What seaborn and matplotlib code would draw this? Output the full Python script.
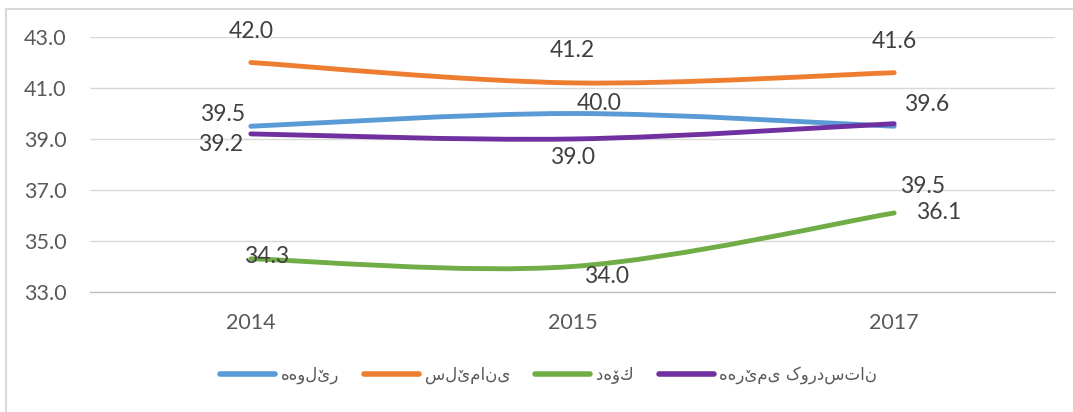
import numpy as np
import pandas as pd
import matplotlib
matplotlib.use("Agg")
import matplotlib.pyplot as plt
from matplotlib.path import Path
from matplotlib.patches import PathPatch, Rectangle
import seaborn as sns

years = ["2014", "2015", "2017"]
regions = ["هەولێر", "سلێمانی", "دهۆك", "هەرێمی کوردستان"]
erbil = [39.5, 40.0, 39.5]
sulaymani = [42.0, 41.2, 41.6]
duhok = [34.3, 34.0, 36.1]
kurdistan = [39.2, 39.0, 39.6]
series = [erbil, sulaymani, duhok, kurdistan]
colors = ["#5B9BD5", "#ED7D31", "#70AD47", "#7030A0"]
yticks = [33.0, 35.0, 37.0, 39.0, 41.0, 43.0]

# label offsets in pixels (dx, dy) per series per point
offsets = [
    [(-28, 12), (27, 10), (28, -60)],
    [(0, 31), (0, 32), (0, 31)],
    [(16, 2), (34, -10), (44, 0)],
    [(-30, -11), (0, -18), (32, 19)],
]

rows = []
for r, vals in zip(regions, series):
    for i, v in enumerate(vals):
        rows.append({"pos": i, "year": years[i], "value": v, "region": r})
df = pd.DataFrame(rows)

sns.set_theme(style="white")
plt.rcParams["font.family"] = ["Lato", "DejaVu Sans"]

fig = plt.figure(figsize=(10.73, 4.12), dpi=100)
ax = fig.add_axes([90 / 1073, 1 - 292 / 412, 965 / 1073, 255 / 412])

sns.lineplot(data=df, x="pos", y="value", hue="region", hue_order=regions,
             palette=colors, linewidth=3.5, ax=ax, legend=True)

# Replace straight segments with Excel-like smoothed curves
for line in list(ax.lines):
    xd = np.asarray(line.get_xdata(), float)
    yd = np.asarray(line.get_ydata(), float)
    if len(xd) < 2:
        continue
    pts = np.column_stack([xd, yd])
    n = len(pts)
    verts = [pts[0]]
    codes = [Path.MOVETO]
    for i in range(n - 1):
        p0 = pts[i - 1] if i > 0 else pts[i]
        p1 = pts[i]
        p2 = pts[i + 1]
        p3 = pts[i + 2] if i + 2 < n else pts[i + 1]
        c1 = p1 + (p2 - p0) / 6
        c2 = p2 - (p3 - p1) / 6
        verts += [c1, c2, p2]
        codes += [Path.CURVE4] * 3
    patch = PathPatch(Path(verts, codes), fill=False, edgecolor=line.get_color(),
                      linewidth=3.5, capstyle="round", joinstyle="round", zorder=3)
    ax.add_patch(patch)
    line.set_visible(False)

for s, vals in enumerate(series):
    for i, v in enumerate(vals):
        ax.annotate(f"{v:.1f}", (i, v), xytext=offsets[s][i], textcoords="offset pixels",
                    ha="center", va="center", fontsize=16.5, color="#404040", zorder=5)

ax.set_xlim(-0.5, 2.5)
ax.set_ylim(33, 43)
ax.set_yticks(yticks)
ax.set_yticklabels([f"{t:.1f}" for t in yticks])
ax.set_xticks(range(len(years)))
ax.set_xticklabels(years)
ax.set_xlabel("")
ax.set_ylabel("")
ax.tick_params(axis="y", length=0, pad=17, labelsize=15.5, labelcolor="#595959")
ax.tick_params(axis="x", length=0, pad=15, labelsize=15.5, labelcolor="#595959")
ax.grid(axis="y", color="#D9D9D9", linewidth=1)
ax.set_axisbelow(True)
for side in ["left", "right", "top"]:
    ax.spines[side].set_visible(False)
ax.spines["bottom"].set_color("#BFBFBF")
ax.spines["bottom"].set_linewidth(1)

leg = ax.legend(loc="center", bbox_to_anchor=(548.5 / 1073, 1 - 375 / 412),
                bbox_transform=fig.transFigure, ncol=4,
                frameon=False, prop={"family": "DejaVu Sans", "size": 12},
                handlelength=3.3, columnspacing=1.5, handletextpad=0.35)
for h in leg.legend_handles:
    h.set_linewidth(4)
    h.set_solid_capstyle("round")
for t in leg.get_texts():
    t.set_color("#595959")

fig.patches.append(Rectangle((6 / 1073, -0.1), 1.2, 1 - 9 / 412 + 0.1,
                             transform=fig.transFigure,
                             fill=False, edgecolor="#D9D9D9", linewidth=1.5))

fig.savefig("out.png", dpi=100)
